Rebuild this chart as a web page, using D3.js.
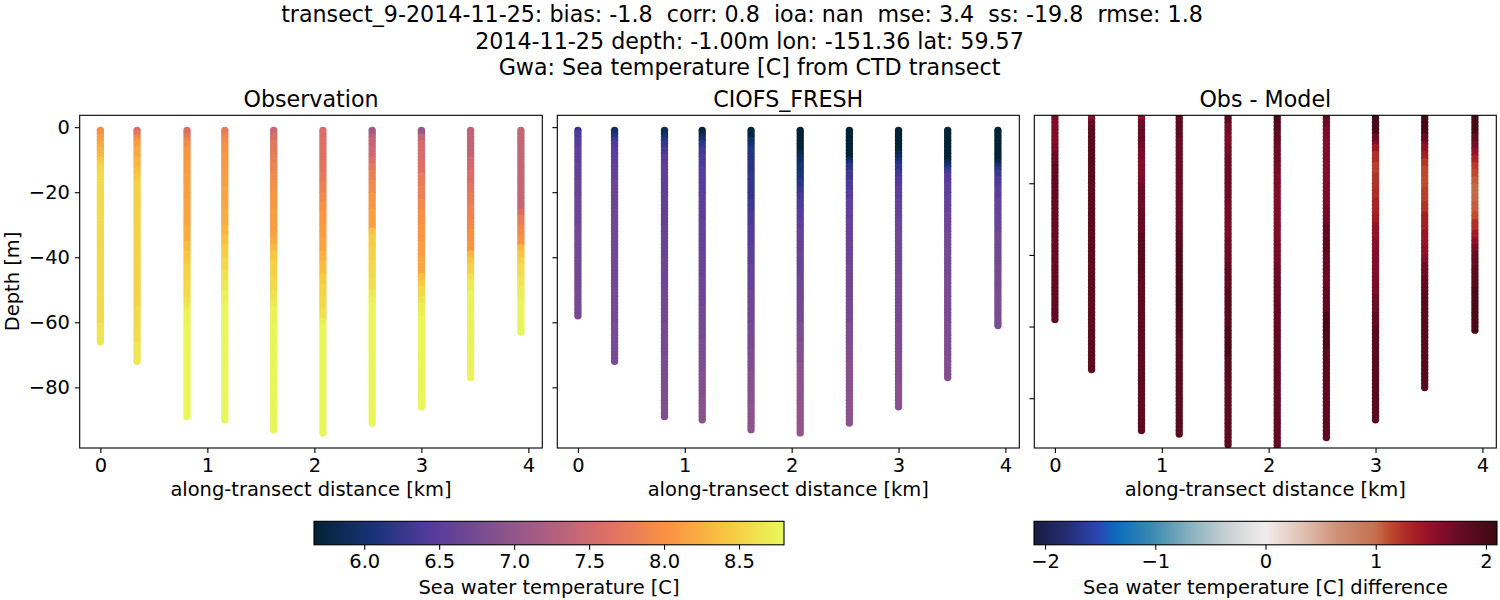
<!DOCTYPE html>
<html>
<head>
<meta charset="utf-8">
<script src="https://cdn.jsdelivr.net/npm/d3@7"></script>
<style>
    html, body { margin: 0; padding: 0; background: white; }
    svg { display: block; }
    text { font-family: "DejaVu Sans", sans-serif; fill: black; }
</style>
</head>
<body>
<div id="chart"></div>
<script>
// along-transect position of each CTD cast [km]
const stationKm = [0, 0.343, 0.81, 1.163, 1.62, 2.08, 2.54, 3.0, 3.46, 3.93];

const obsBottoms = [
    [2, 4, 6, 8, 9, 10, 11, 12, 14, 30, 50, 60, 66],
    [1, 2, 3, 4, 6, 9, 12, 14, 16, 30, 55, 62, 66, 72],
    [2, 3, 4, 6, 10, 14, 22, 30, 35, 38, 42, 47, 52, 54, 56, 60, 89],
    [2, 3, 5, 8, 13, 18, 25, 30, 33, 36, 40, 44, 47, 50, 54, 90],
    [2, 4, 8, 11, 14, 17, 19, 25, 32, 34, 36, 38, 41, 46, 50, 53, 55, 60, 93],
    [3, 10, 14, 17, 20, 23, 26, 30, 34, 38, 41, 45, 48, 52, 56, 59, 61, 94],
    [2, 3, 6, 9, 11, 13, 16, 20, 25, 31, 33, 37, 41, 46, 50, 52, 54, 91],
    [2, 4, 10, 14, 18, 22, 25, 30, 35, 40, 45, 47, 49, 52, 54, 58, 86],
    [9, 13, 17, 20, 24, 28, 31, 35, 38, 40, 42, 45, 47, 50, 77],
    [25, 27, 30, 33, 36, 38, 40, 42, 46, 49, 53, 63]
];
const obsTemps = [
    [8.0, 8.12, 8.2, 8.28, 8.33, 8.4, 8.45, 8.5, 8.54, 8.58, 8.56, 8.58, 8.65],
    [7.6, 7.7, 7.85, 8.0, 8.12, 8.2, 8.28, 8.36, 8.44, 8.49, 8.52, 8.57, 8.6, 8.66],
    [7.62, 7.72, 7.85, 7.95, 8.04, 8.08, 8.12, 8.16, 8.22, 8.32, 8.42, 8.5, 8.55, 8.62, 8.68, 8.74, 8.77],
    [7.75, 7.85, 7.95, 8.02, 8.08, 8.12, 8.17, 8.22, 8.3, 8.38, 8.48, 8.55, 8.62, 8.67, 8.73, 8.77],
    [7.45, 7.62, 7.72, 7.8, 7.86, 7.93, 7.98, 8.04, 8.09, 8.15, 8.22, 8.32, 8.42, 8.5, 8.56, 8.62, 8.68, 8.74, 8.77],
    [7.58, 7.63, 7.68, 7.74, 7.82, 7.92, 8.0, 8.06, 8.1, 8.16, 8.25, 8.34, 8.45, 8.52, 8.55, 8.62, 8.72, 8.77],
    [7.1, 7.3, 7.4, 7.48, 7.6, 7.7, 7.82, 7.92, 8.04, 8.12, 8.4, 8.46, 8.52, 8.56, 8.6, 8.66, 8.72, 8.77],
    [7.05, 7.4, 7.56, 7.62, 7.75, 7.82, 7.9, 7.98, 8.04, 8.1, 8.18, 8.34, 8.45, 8.55, 8.62, 8.72, 8.77],
    [7.37, 7.5, 7.6, 7.68, 7.76, 7.84, 7.9, 7.98, 8.05, 8.3, 8.42, 8.52, 8.6, 8.7, 8.76],
    [7.4, 7.58, 7.75, 7.9, 8.0, 8.3, 8.42, 8.5, 8.6, 8.66, 8.72, 8.77]
];

const modelBottoms = [
    [1, 3, 6, 11, 16, 21, 30, 40, 50, 58],
    [2, 3, 4, 6, 8, 12, 16, 25, 40, 50, 60, 72],
    [2, 3, 4, 6, 8, 11, 20, 30, 40, 50, 60, 70, 80, 89],
    [2, 3, 4, 6, 8, 12, 20, 28, 38, 46, 55, 65, 75, 83, 90],
    [3, 5, 6, 10, 14, 22, 26, 30, 36, 42, 50, 60, 68, 75, 85, 93],
    [7, 8, 9, 11, 14, 16, 18, 20, 22, 25, 28, 31, 38, 45, 52, 60, 66, 72, 84, 94],
    [9, 10, 11, 13, 16, 19, 22, 28, 35, 42, 52, 60, 66, 72, 82, 91],
    [7, 8, 9, 10, 11, 13, 15, 18, 22, 28, 32, 45, 60, 70, 78, 86],
    [10, 11, 12, 13, 14, 17, 21, 26, 32, 45, 60, 70, 77],
    [10, 11, 12, 13, 15, 18, 22, 27, 32, 42, 50, 61]
];
const modelTemps = [
    [6.25, 6.4, 6.48, 6.53, 6.58, 6.62, 6.66, 6.7, 6.72, 6.74],
    [5.95, 6.15, 6.3, 6.42, 6.48, 6.54, 6.58, 6.65, 6.7, 6.72, 6.75, 6.78],
    [5.85, 6.02, 6.15, 6.27, 6.38, 6.47, 6.53, 6.57, 6.62, 6.66, 6.71, 6.75, 6.79, 6.83],
    [5.72, 5.88, 6.02, 6.2, 6.32, 6.4, 6.48, 6.53, 6.58, 6.62, 6.67, 6.73, 6.8, 6.86, 6.92],
    [5.75, 5.95, 6.05, 6.13, 6.17, 6.22, 6.3, 6.38, 6.45, 6.52, 6.6, 6.68, 6.75, 6.82, 6.88, 6.94],
    [5.68, 5.76, 5.85, 5.93, 6.0, 6.08, 6.18, 6.26, 6.35, 6.42, 6.48, 6.53, 6.58, 6.62, 6.66, 6.72, 6.8, 6.86, 6.94, 6.99],
    [5.68, 5.85, 6.0, 6.18, 6.3, 6.4, 6.46, 6.54, 6.6, 6.65, 6.7, 6.74, 6.8, 6.84, 6.9, 6.94],
    [5.68, 5.78, 5.88, 5.98, 6.1, 6.22, 6.33, 6.44, 6.52, 6.6, 6.65, 6.7, 6.75, 6.8, 6.86, 6.92],
    [5.68, 5.85, 6.02, 6.2, 6.33, 6.45, 6.53, 6.6, 6.66, 6.72, 6.76, 6.8, 6.84],
    [5.68, 5.82, 5.98, 6.15, 6.28, 6.42, 6.5, 6.58, 6.63, 6.7, 6.74, 6.78]
];

const diffBottoms = [
    [2, 9, 11, 14, 20, 30, 38, 45, 52, 58],
    [1, 2, 4, 20, 40, 60, 72],
    [2, 5, 8, 10, 13, 17, 20, 27, 34, 38, 45, 60, 89],
    [7, 20, 33, 38, 46, 56, 62, 90],
    [3, 6, 9, 12, 18, 24, 30, 35, 42, 50, 60, 64, 68, 74, 93],
    [3, 5, 8, 10, 14, 17, 22, 35, 42, 47, 60, 94],
    [2, 4, 7, 20, 26, 31, 35, 39, 44, 49, 56, 62, 66, 75, 91],
    [6, 8, 9, 11, 14, 17, 21, 24, 28, 31, 35, 38, 45, 51, 56, 60, 86],
    [6, 8, 9, 11, 13, 15, 18, 21, 25, 28, 33, 37, 40, 42, 46, 50, 77],
    [6, 8, 10, 12, 14, 16, 18, 20, 23, 25, 28, 30, 33, 35, 37, 39, 43, 49, 61]
];
const diffTemps = [
    [1.62, 1.6, 1.65, 1.75, 1.82, 1.8, 1.76, 1.76, 1.8, 1.82],
    [1.42, 1.55, 1.78, 1.87, 1.85, 1.83, 1.85],
    [1.5, 1.72, 1.78, 1.72, 1.65, 1.6, 1.62, 1.72, 1.78, 1.86, 1.88, 1.85, 1.85],
    [1.85, 1.75, 1.74, 1.88, 1.96, 2.0, 1.92, 1.88],
    [1.85, 1.68, 1.62, 1.68, 1.74, 1.72, 1.68, 1.65, 1.72, 1.82, 1.88, 1.95, 2.0, 1.9, 1.85],
    [1.98, 1.9, 1.82, 1.76, 1.72, 1.67, 1.62, 1.6, 1.66, 1.74, 1.78, 1.8],
    [1.82, 1.72, 1.62, 1.6, 1.62, 1.68, 1.8, 1.88, 1.78, 1.74, 1.82, 1.98, 1.95, 1.88, 1.85],
    [2.0, 1.75, 1.6, 1.4, 1.26, 1.18, 1.24, 1.27, 1.32, 1.38, 1.48, 1.54, 1.58, 1.62, 1.72, 1.8, 1.88],
    [2.0, 1.8, 1.65, 1.5, 1.36, 1.22, 1.14, 1.12, 1.18, 1.25, 1.36, 1.44, 1.5, 1.58, 1.7, 1.8, 1.88],
    [2.02, 1.85, 1.7, 1.5, 1.32, 1.2, 1.12, 1.06, 1.02, 1.03, 1.06, 1.12, 1.25, 1.38, 1.52, 1.68, 1.8, 1.88, 1.98]
];

const xTicks = [0, 1, 2, 3, 4];
const depthTicks = [0, -20, -40, -60, -80];
const tempTicks = [6.0, 6.5, 7.0, 7.5, 8.0, 8.5];
const diffTicks = [-2, -1, 0, 1, 2];

const titleLines = [
    'transect_9-2014-11-25: bias: -1.8  corr: 0.8  ioa: nan  mse: 3.4  ss: -19.8  rmse: 1.8',
    '2014-11-25 depth: -1.00m lon: -151.36 lat: 59.57',
    'Gwa: Sea temperature [C] from CTD transect'
];

// thermal and balance colormaps
const thermalStops = ['#032333', '#17337a', '#553b9d', '#814f8f', '#af5f82', '#de7065', '#f99242', '#f9c441', '#e8fa5b'];
const balanceValues = [-2.1, -1.84, -1.53, -1.35, -1.02, -0.65, -0.35, 0, 0.35, 0.65, 1, 1.1, 1.34, 1.52, 1.7, 2.1];
const balanceStops = ['#181c43', '#232a6c', '#2a45b0', '#0c6bbd', '#3b8bb0', '#8fb5c0', '#c8d0d3', '#f1ecec', '#e0bfb0', '#d09078', '#c4714f', '#bf5030', '#a81e24', '#8f0f2a', '#700c28', '#3c0912'];

const tempMin = 5.665, tempMax = 8.8, diffMax = 2.1;

const thermal = d3.scaleLinear()
    .domain(thermalStops.map((c, i) => tempMin + (tempMax - tempMin) * i / (thermalStops.length - 1)))
    .range(thermalStops)
    .clamp(true);
const balance = d3.scaleLinear()
    .domain(balanceValues)
    .range(balanceStops)
    .clamp(true);

const minusSign = s => String(s).replace('-', '\u2212');

const svg = d3.select('#chart').append('svg')
    .attr('width', 1500)
    .attr('height', 600);
const defs = svg.append('defs');

// suptitle, the long first line sits a little left of the other two
svg.selectAll('text.sup')
    .data(titleLines)
    .enter()
    .append('text')
        .attr('class', 'sup')
        .attr('x', (d, i) => i === 0 ? 742 : 749.5)
        .attr('y', (d, i) => 22 + i * 26.5)
        .attr('text-anchor', 'middle')
        .style('font-size', '22.2px')
        .style('white-space', 'pre')
        .text(d => d);

const plotTop = 115.3, plotBottom = 448;

function drawPanel(index, title, left, right, yDomain, bottoms, values, color, showLabels, yTickValues) {
    const x = d3.scaleLinear().domain([-0.193, 4.13]).range([left, right]);
    const y = d3.scaleLinear().domain(yDomain).range([plotTop, plotBottom]);

    const clipId = 'clip' + index;
    defs.append('clipPath').attr('id', clipId)
        .append('rect')
            .attr('x', left)
            .attr('y', plotTop)
            .attr('width', right - left)
            .attr('height', plotBottom - plotTop);

    // one point per metre of depth, shallow first so deeper points sit on top
    const points = [];
    stationKm.forEach((km, s) => {
        let from = 1;
        bottoms[s].forEach((to, layer) => {
            d3.range(from, to + 1).forEach(depth => {
                points.push({ km: km, depth: -depth, value: values[s][layer] });
            });
            from = to + 1;
        });
    });

    const g = svg.append('g');
    g.append('g')
        .attr('clip-path', 'url(#' + clipId + ')')
        .selectAll('circle')
        .data(points)
        .enter()
        .append('circle')
            .attr('cx', d => x(d.km))
            .attr('cy', d => y(d.depth))
            .attr('r', 3.7)
            .attr('fill', d => color(d.value));

    g.append('rect')
        .attr('x', left)
        .attr('y', plotTop)
        .attr('width', right - left)
        .attr('height', plotBottom - plotTop)
        .attr('fill', 'none')
        .attr('stroke', 'black')
        .attr('stroke-width', 1.1);

    const xAxis = g.append('g')
        .attr('transform', 'translate(0,' + plotBottom + ')')
        .call(d3.axisBottom(x).tickValues(xTicks).tickSize(4.9).tickPadding(4.9).tickFormat(d3.format('d')));
    const yAxis = g.append('g')
        .attr('transform', 'translate(' + left + ',0)')
        .call(d3.axisLeft(y).tickValues(yTickValues).tickSize(4.9).tickPadding(4.9)
            .tickFormat(d => showLabels ? minusSign(d) : ''));
    [xAxis, yAxis].forEach(axis => {
        axis.select('.domain').remove();
        axis.selectAll('line').attr('stroke-width', 1.1);
        axis.selectAll('text').style('font-size', '19.44px').attr('font-family', null);
    });

    g.append('text')
        .attr('x', (left + right) / 2)
        .attr('y', 107)
        .attr('text-anchor', 'middle')
        .style('font-size', '22.2px')
        .text(title);
    g.append('text')
        .attr('x', (left + right) / 2)
        .attr('y', 496)
        .attr('text-anchor', 'middle')
        .style('font-size', '19.44px')
        .text('along-transect distance [km]');
}

drawPanel(1, 'Observation', 79.7, 542.3, [3.65, -98.65], obsBottoms, obsTemps, thermal, true, depthTicks);
drawPanel(2, 'CIOFS_FRESH', 557.3, 1019.3, [3.65, -98.65], modelBottoms, modelTemps, thermal, false, depthTicks);
drawPanel(3, 'Obs - Model', 1034.3, 1496.3, [-1.03, -93.9], diffBottoms, diffTemps, balance, false, depthTicks.slice(1));

svg.append('text')
    .attr('transform', 'translate(19,281.5) rotate(-90)')
    .attr('text-anchor', 'middle')
    .style('font-size', '19.44px')
    .text('Depth [m]');

function drawColorbar(id, label, left, right, domain, color, ticks, format) {
    const barTop = 521.3, barBottom = 544.8;
    const x = d3.scaleLinear().domain(domain).range([left, right]);

    const gradient = defs.append('linearGradient').attr('id', id);
    gradient.selectAll('stop')
        .data(d3.range(0, 65))
        .enter()
        .append('stop')
            .attr('offset', d => (d / 64 * 100) + '%')
            .attr('stop-color', d => color(domain[0] + (domain[1] - domain[0]) * d / 64));

    svg.append('rect')
        .attr('x', left)
        .attr('y', barTop)
        .attr('width', right - left)
        .attr('height', barBottom - barTop)
        .attr('fill', 'url(#' + id + ')')
        .attr('stroke', 'black')
        .attr('stroke-width', 1.1);

    const axis = svg.append('g')
        .attr('transform', 'translate(0,' + barBottom + ')')
        .call(d3.axisBottom(x).tickValues(ticks).tickSize(4.9).tickPadding(4.9).tickFormat(format));
    axis.select('.domain').remove();
    axis.selectAll('line').attr('stroke-width', 1.1);
    axis.selectAll('text').style('font-size', '19.44px').attr('font-family', null);

    svg.append('text')
        .attr('x', (left + right) / 2)
        .attr('y', 594)
        .attr('text-anchor', 'middle')
        .style('font-size', '19.44px')
        .text(label);
}

drawColorbar('thermalBar', 'Sea water temperature [C]', 314, 784, [tempMin, tempMax], thermal, tempTicks, d3.format('.1f'));
drawColorbar('balanceBar', 'Sea water temperature [C] difference', 1034, 1497, [-diffMax, diffMax], balance, diffTicks, d => minusSign(d));
</script>
</body>
</html>
